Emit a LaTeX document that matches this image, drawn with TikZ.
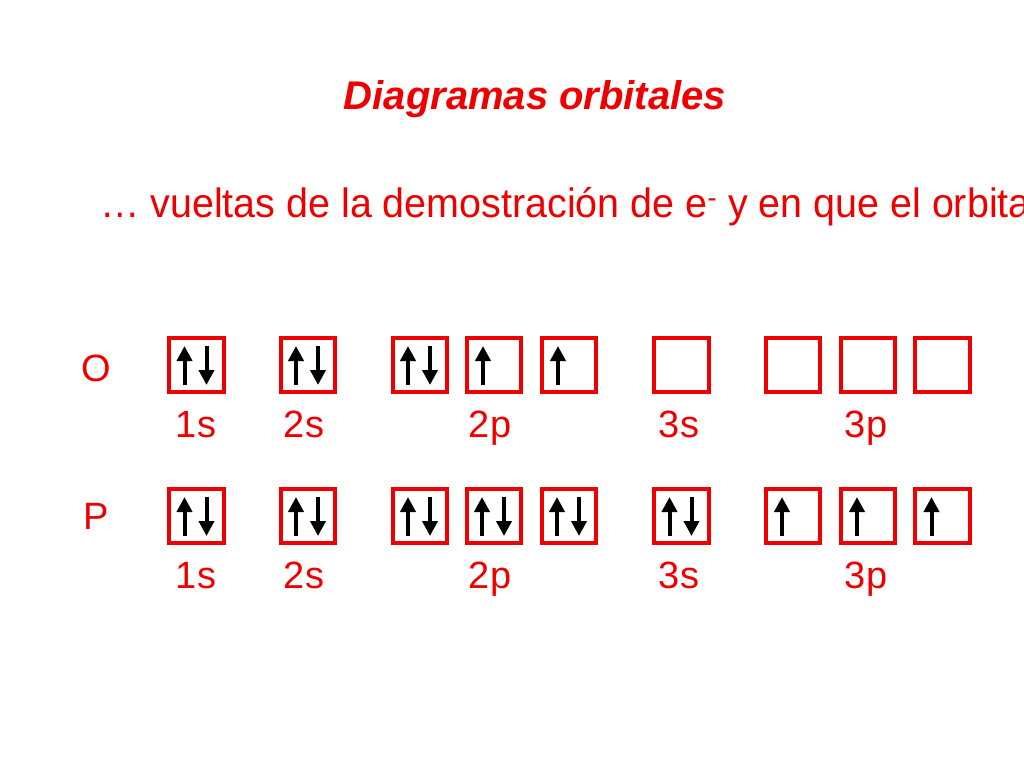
\documentclass[tikz,border=0pt]{standalone}
\usepackage{fontspec}
\setmainfont{Liberation Sans}
\usetikzlibrary{arrows.meta}
\definecolor{slidered}{RGB}{238,0,0}
\newcommand{\upspin}[2]{\draw[spin] ([shift={(#2,20)}]#1.center) -- ([shift={(#2,-19)}]#1.center);}
\newcommand{\pairspin}[1]{\upspin{#1}{-12}\draw[spin] ([shift={(10,-19)}]#1.center) -- ([shift={(10,20)}]#1.center);}

\begin{document}
\begin{tikzpicture}[x=1pt, y=-1pt,
	orb/.style={draw=slidered, line width=3.8pt, minimum size=54.5pt, inner sep=0pt},
	spin/.style={black, line width=4pt, -{Triangle[length=15pt, width=15pt]}},
	lbl/.style={text=slidered, anchor=base, font=\fontsize{38}{40}\selectfont}]
	\useasboundingbox (0,0) rectangle (1024,768);
	\node[text=slidered, anchor=base, font=\bfseries\itshape\fontsize{40}{44}\selectfont] (title) at (535,109) {Diagramas orbitales};
	\node[text=slidered, anchor=base west, inner sep=0pt, xscale=0.962, transform shape, font=\fontsize{41}{44}\selectfont] (intro) at (100,217) {… vueltas de la demostración de e\textsuperscript{-} y en que el orbital};
	% oxigeno
	\node[lbl] (oname) at (96,381) {O};
	\node[orb] (o1s) at (196.5,365) {};
	\node[orb] (o2s) at (308,365) {};
	\node[orb] (o2pa) at (420,365) {};
	\node[orb] (o2pb) at (494,365) {};
	\node[orb] (o2pc) at (569,365) {};
	\node[orb] (o3s) at (681.5,365) {};
	\node[orb] (o3pa) at (793,365) {};
	\node[orb] (o3pb) at (868,365) {};
	\node[orb] (o3pc) at (942.5,365) {};
	\node[lbl] (o1slbl) at (196,437) {1s};
	\node[lbl] (o2slbl) at (304,437) {2s};
	\node[lbl] (o2plbl) at (490,437) {2p};
	\node[lbl] (o3slbl) at (679,437) {3s};
	\node[lbl] (o3plbl) at (866,437) {3p};
	% fosforo
	\node[lbl] (pname) at (96,529) {P};
	\node[orb] (p1s) at (196.5,516) {};
	\node[orb] (p2s) at (308,516) {};
	\node[orb] (p2pa) at (420,516) {};
	\node[orb] (p2pb) at (494,516) {};
	\node[orb] (p2pc) at (569,516) {};
	\node[orb] (p3s) at (681.5,516) {};
	\node[orb] (p3pa) at (793,516) {};
	\node[orb] (p3pb) at (868,516) {};
	\node[orb] (p3pc) at (942.5,516) {};
	\node[lbl] (p1slbl) at (196,588) {1s};
	\node[lbl] (p2slbl) at (304,588) {2s};
	\node[lbl] (p2plbl) at (490,588) {2p};
	\node[lbl] (p3slbl) at (679,588) {3s};
	\node[lbl] (p3plbl) at (866,588) {3p};
	% electrones
	\foreach \orbname in {o1s,o2s,o2pa,p1s,p2s,p2pa,p2pb,p2pc,p3s} {\pairspin{\orbname}}
	\foreach \orbname in {o2pb,o2pc,p3pa,p3pb,p3pc} {\upspin{\orbname}{-11}}
\end{tikzpicture}
\end{document}
